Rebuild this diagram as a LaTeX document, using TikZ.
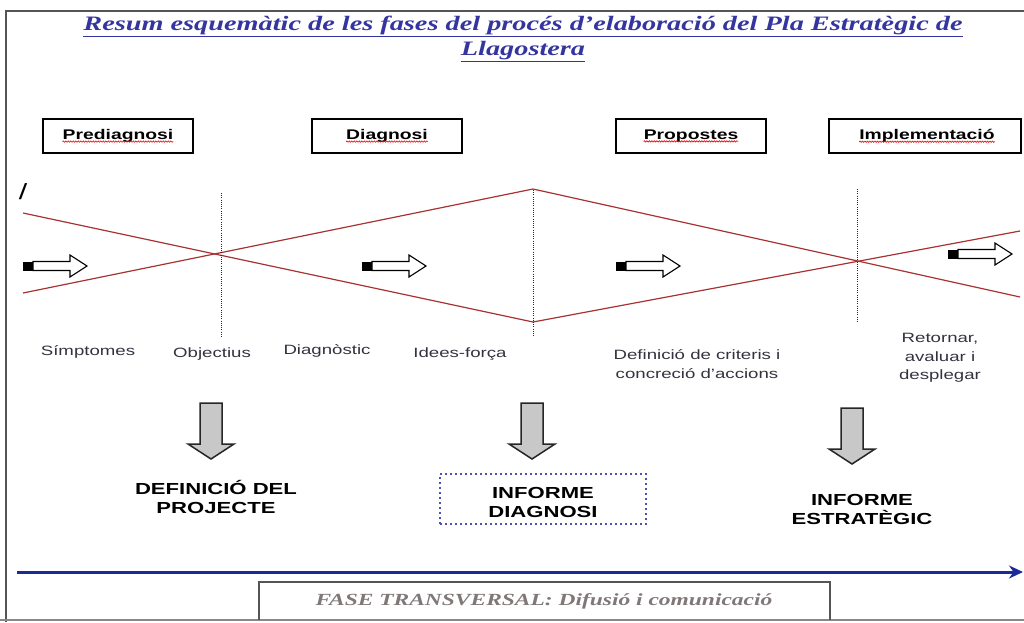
\documentclass[tikz,border=0pt]{standalone}
\usepackage{fontspec}
\setmainfont{Liberation Serif}[FakeStretch=1.38]
\setsansfont{Liberation Sans}[FakeStretch=1.38]
\usetikzlibrary{decorations.pathmorphing,arrows.meta}
\definecolor{titleblue}{HTML}{3535A0}
\definecolor{redline}{HTML}{A83232}
\definecolor{labgray}{HTML}{333340}
\definecolor{axisblue}{HTML}{1A2A99}
\definecolor{dotblue}{HTML}{5050B0}
\definecolor{framegray}{HTML}{555555}
\definecolor{arrowgray}{HTML}{C8C8C8}
\definecolor{fasegray}{HTML}{807878}
\tikzset{
  titletext/.style={font=\fontsize{20.5}{26}\selectfont\bfseries\itshape, text=titleblue, inner sep=0},
  phasebox/.style={draw, line width=1.3pt, minimum width=150, minimum height=34, inner sep=0},
  phaselabel/.style={font=\sffamily\bfseries\fontsize{14}{16}\selectfont, inner sep=0},
  spell/.style={draw=red, line width=0.6pt, decorate, decoration={snake, amplitude=0.7pt, segment length=2.5pt}},
  redl/.style={draw=redline, line width=1.2pt},
  vdots/.style={draw=black!85, line width=1pt, dash pattern=on 1pt off 1.2pt},
  smalllab/.style={font=\sffamily\fontsize{13.5}{18.5}\selectfont, text=labgray, align=center, inner sep=0},
  outlab/.style={font=\sffamily\bfseries\fontsize{16}{19}\selectfont, align=center, inner sep=0},
  rarrow/.pic={
    \fill[black] (0,-4.5) rectangle (10,4.5);
    \draw[line width=1.1pt, fill=white] (10,-4.5) -- (47,-4.5) -- (47,-11) -- (64,0) -- (47,11) -- (47,4.5) -- (10,4.5) -- cycle;
  },
  darrow/.pic={
    \draw[line width=1.5pt, draw=black!85, fill=arrowgray, line join=miter] (-11,0) -- (11,0) -- (11,41) -- (23,41) -- (0,56) -- (-23,41) -- (-11,41) -- cycle;
  }
}
\begin{document}
\begin{tikzpicture}[x=1pt,y=-1pt]
\useasboundingbox (0,0) rectangle (1024,622);
% frame
\draw[framegray, line width=1.5pt] (1024,11) -- (6,11) -- (6,622);
\draw[framegray!70, line width=1.2pt] (0,620) -- (1024,620);
% title
\node[titletext] (title1) at (523,26) {\underline{Resum esquemàtic de les fases del procés d’elaboració del Pla Estratègic de}};
\node[titletext] (title2) at (523,52) {\underline{Llagostera}};
% phase boxes
\node[phasebox] (pPre) at (118,136) {};
\node[phaselabel] (lPre) at (pPre) {Prediagnosi};
\node[phasebox] (pDia) at (387,136) {};
\node[phaselabel] (lDia) at (pDia) {Diagnosi};
\node[phasebox] (pPro) at (691,136) {};
\node[phasebox, minimum width=192] (pImp) at (925,136) {};
\node[phaselabel] (lPro) at (pPro) {Propostes};
\node[phaselabel] (lImp) at (927,136) {Implementació};
\foreach \n in {lPre,lDia,lPro,lImp}
  \draw[spell] ([yshift=-2pt]\n.base west) -- ([yshift=-2pt]\n.base east);
% slash
\node[font=\sffamily\fontsize{22}{22}\selectfont, inner sep=0] (slash) at (23,192) {/};
% red lines
\coordinate (a1) at (23,213);
\coordinate (a2) at (23,293);
\coordinate (x1) at (221,255);
\coordinate (top) at (533,189);
\coordinate (bot) at (533,322);
\coordinate (x2) at (857,261);
\coordinate (e1) at (1020,231);
\coordinate (e2) at (1020,297);
\draw[redl] (a1) -- (bot) -- (e1);
\draw[redl] (a2) -- (top) -- (e2);
% dotted verticals
\coordinate (v1t) at (221,193); \coordinate (v1b) at (221,337);
\coordinate (v2t) at (533,190); \coordinate (v2b) at (533,337);
\coordinate (v3t) at (857,189); \coordinate (v3b) at (857,322);
\draw[vdots] (v1t) -- (v1b);
\draw[vdots] (v2t) -- (v2b);
\draw[vdots] (v3t) -- (v3b);
% right block arrows
\pic at (23,266) {rarrow};
\pic at (362,266) {rarrow};
\pic at (616,266) {rarrow};
\pic at (948,254) {rarrow};
% small labels
\node[smalllab] (sim) at (88,352) {Símptomes};
\node[smalllab] (obj) at (212,354) {Objectius};
\node[smalllab] (dia) at (327,351) {Diagnòstic};
\node[smalllab] (ide) at (460,354) {Idees-força};
\node[smalllab] (def) at (697,364) {Definició de criteris i\\concreció d’accions};
\node[smalllab] (ret) at (940,358) {Retornar,\\avaluar i\\desplegar};
% down arrows
\pic at (211,403) {darrow};
\pic at (532,403) {darrow};
\pic at (852,408) {darrow};
% outputs
\node[outlab] (o1) at (216,497) {DEFINICIÓ DEL\\PROJECTE};
\node[draw=dotblue, line width=2pt, dash pattern=on 2pt off 3pt, minimum width=206, minimum height=50, inner sep=0] (o2box) at (543,499) {};
\node[outlab] (o2) at (543,502) {INFORME\\DIAGNOSI};
\node[outlab] (o3) at (862,509) {INFORME\\ESTRATÈGIC};
% blue axis
\coordinate (ax0) at (17,572);
\coordinate (ax1) at (1023,572);
\draw[axisblue, line width=3pt, -{Stealth[length=14pt,width=13pt]}] (ax0) -- (ax1);
% bottom box
\draw[framegray, line width=1.3pt] (259,620) -- (259,582) -- (830,582) -- (830,620);
\node[font=\fontsize{17}{19}\selectfont\bfseries\itshape, text=fasegray, inner sep=0] (fase) at (544,601) {FASE TRANSVERSAL: Difusió i comunicació};
\end{tikzpicture}
\end{document}
